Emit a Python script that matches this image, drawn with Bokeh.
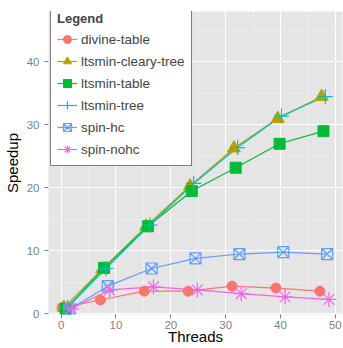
from bokeh.plotting import figure
from bokeh.models import ColumnDataSource, Range1d, Legend, LegendItem, FixedTicker
from bokeh.transform import dodge
from bokeh.embed import file_html
from bokeh.resources import INLINE

threads = [1, 8, 16, 24, 32, 40, 48]
series_names = ["divine-table", "ltsmin-cleary-tree", "ltsmin-table",
                "ltsmin-tree", "spin-hc", "spin-nohc"]
divine_table = [1.0, 2.2, 3.6, 3.6, 4.4, 4.1, 3.6]
ltsmin_cleary_tree = [1.0, 7.1, 13.9, 20.3, 26.3, 31.0, 34.5]
ltsmin_table = [0.8, 7.3, 13.9, 19.5, 23.2, 27.0, 29.0]
ltsmin_tree = [1.0, 7.2, 14.1, 20.7, 26.4, 31.4, 34.5]
spin_hc = [0.7, 4.4, 7.2, 8.8, 9.5, 9.8, 9.5]
spin_nohc = [0.8, 3.8, 4.3, 3.8, 3.2, 2.7, 2.3]
x_ticks = [0, 10, 20, 30, 40, 50]
y_ticks = [0, 10, 20, 30, 40]

series_values = [divine_table, ltsmin_cleary_tree, ltsmin_table,
                 ltsmin_tree, spin_hc, spin_nohc]
colors = ["#F8766D", "#B79F00", "#00BA38", "#00BFC4", "#619CFF", "#F564E3"]
markers = [
    dict(marker="circle", size=10, fill_alpha=1.0),
    dict(marker="triangle", size=13, fill_alpha=1.0),
    dict(marker="square", size=11, fill_alpha=1.0),
    dict(marker="cross", size=15, line_width=1.2),
    dict(marker="square_x", size=11, fill_alpha=0.0, line_width=1.2),
    dict(marker="asterisk", size=15, line_width=1.2),
]
dodge_width = 2.0
n = len(series_names)
offsets = [(i - (n - 1) / 2) * dodge_width / n for i in range(n)]

FONT = "Liberation Sans"

p = figure(width=343, height=348, output_backend="svg", toolbar_location=None,
           x_range=Range1d(-2.3, 51.3), y_range=Range1d(-0.1, 48.0),
           min_border_left=47, min_border_right=1, min_border_top=11,
           min_border_bottom=34)
p.background_fill_color = "#E5E5E5"
p.border_fill_color = "white"
p.outline_line_color = None

p.xaxis.ticker = FixedTicker(ticks=x_ticks, minor_ticks=[t + 5 for t in x_ticks])
p.yaxis.ticker = FixedTicker(ticks=y_ticks, minor_ticks=[t + 5 for t in y_ticks])
for ax in (p.xaxis, p.yaxis):
    ax.axis_line_color = None
    ax.major_tick_line_color = "#7F7F7F"
    ax.major_tick_out = 4
    ax.major_tick_in = 0
    ax.minor_tick_line_color = None
    ax.major_label_text_color = "#7F7F7F"
    ax.major_label_text_font = FONT
    ax.major_label_text_font_size = "11.5px"
    ax.axis_label_text_font = FONT
    ax.axis_label_text_font_size = "15px"
    ax.axis_label_text_font_style = "normal"
    ax.axis_label_text_color = "black"
p.xaxis.axis_label = "Threads"
p.yaxis.axis_label = "Speedup"
p.xaxis.major_label_standoff = 2
p.xaxis.axis_label_standoff = -4
p.yaxis.major_label_standoff = 5
p.yaxis.axis_label_standoff = 3

p.grid.grid_line_color = "white"
p.grid.grid_line_width = 1.1
p.grid.minor_grid_line_color = "#F2F2F2"
p.grid.minor_grid_line_width = 0.6

sources = []
line_renderers = []
for name, vals, off in zip(series_names, series_values, offsets):
    src = ColumnDataSource(dict(threads=threads, speedup=vals))
    sources.append(src)
for i in range(n):
    r = p.line(x=dodge("threads", offsets[i]), y="speedup", source=sources[i],
               line_color=colors[i], line_width=1.2)
    line_renderers.append(r)

items = []
for i in range(n):
    m = markers[i]
    r = p.scatter(x=dodge("threads", offsets[i]), y="speedup", source=sources[i],
                  marker=m["marker"], size=m["size"],
                  fill_color=colors[i], fill_alpha=m.get("fill_alpha", 1.0),
                  line_color=colors[i], line_width=m.get("line_width", 1.0))
    items.append(LegendItem(label=series_names[i], renderers=[line_renderers[i], r]))

legend = Legend(items=items, location=(2, 148), title="Legend",
                title_text_font=FONT, title_text_font_style="bold",
                title_text_font_size="13px", title_standoff=3,
                label_text_font=FONT, label_text_font_size="13.5px",
                label_standoff=4, glyph_width=20, glyph_height=20,
                label_height=20, spacing=2, padding=6, margin=0,
                border_line_color="black", border_line_width=1.2,
                background_fill_color="white", background_fill_alpha=1.0)
p.add_layout(legend, "center")

open("out.html", "w").write(file_html(p, INLINE))
